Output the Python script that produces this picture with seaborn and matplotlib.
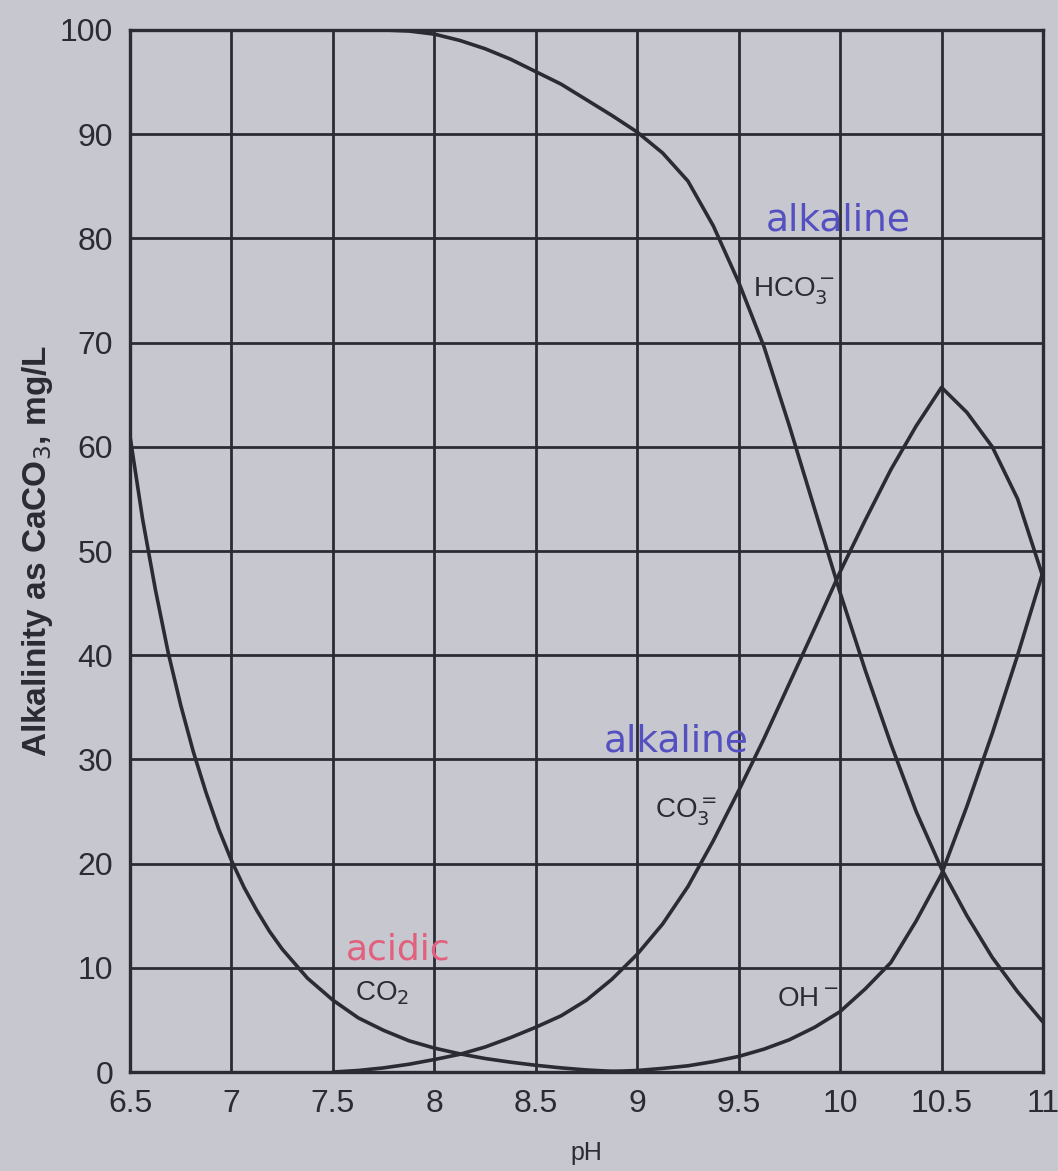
import numpy as np
import matplotlib
matplotlib.use('Agg')
import matplotlib.pyplot as plt
import seaborn as sns

nan = np.nan

# CO2 curve, read more densely where it bends sharply
ph_co2 = [6.5, 6.5625, 6.625, 6.6875, 6.75, 6.8125, 6.875, 6.9375, 7.0, 7.0625,
          7.125, 7.1875, 7.25, 7.375, 7.5, 7.625, 7.75, 7.875, 8.0, 8.125,
          8.25, 8.375, 8.5, 8.625, 8.75, 8.875, 9.0]
co2 = [61, 53.0, 46.3, 40.3, 35.2, 30.7, 26.8, 23.3, 20.3, 17.7,
       15.5, 13.5, 11.8, 9.0, 6.9, 5.2, 4.0, 3.0, 2.3, 1.75,
       1.3, 0.95, 0.65, 0.4, 0.2, 0.07, 0.0]

# other curves, read every 0.125 pH
ph = [7.5, 7.625, 7.75, 7.875, 8.0, 8.125, 8.25, 8.375, 8.5, 8.625, 8.75,
      8.875, 9.0, 9.125, 9.25, 9.375, 9.5, 9.625, 9.75, 9.875, 10.0, 10.125,
      10.25, 10.375, 10.5, 10.625, 10.75, 10.875, 11.0]
hco3 = [100, 100, 100, 99.9, 99.6, 99.0, 98.2, 97.2, 96.0, 94.8, 93.3,
        91.8, 90.2, 88.2, 85.5, 81.2, 75.8, 69.6, 62.0, 54.0, 46.0, 38.5,
        31.5, 25.0, 19.5, 15.0, 11.0, 7.7, 4.8]
co3 = [0.0, 0.15, 0.4, 0.75, 1.2, 1.7, 2.4, 3.3, 4.3, 5.4, 6.9,
       8.9, 11.3, 14.2, 17.8, 22.2, 27.0, 32.0, 37.3, 42.6, 48.0, 53.0,
       57.8, 62.0, 65.7, 63.3, 60.0, 55.0, 47.5]
oh = [nan, nan, nan, nan, nan, nan, nan, nan, nan, nan, 0.0,
      0.05, 0.15, 0.35, 0.6, 1.0, 1.5, 2.2, 3.1, 4.3, 5.8, 8.0,
      10.5, 14.5, 19.0, 25.5, 32.5, 40.0, 48.0]

xticks = [6.5, 7, 7.5, 8, 8.5, 9, 9.5, 10, 10.5, 11]
xticklabels = ['6.5', '7', '7.5', '8', '8.5', '9', '9.5', '10', '10.5', '11']
yticks = [0, 10, 20, 30, 40, 50, 60, 70, 80, 90, 100]

bg = '#c7c7d0'
ink = '#2b2b33'

sns.set_style('white')
plt.rcParams['font.family'] = ['Liberation Sans', 'DejaVu Sans']

fig = plt.figure(figsize=(10.58, 11.71), dpi=100, facecolor=bg)
ax = fig.add_axes([0.1229, 0.0845, 0.8629, 0.8899])
ax.set_facecolor(bg)

sns.lineplot(x=ph_co2, y=co2, color=ink, linewidth=2.6, estimator=None,
             sort=False, ax=ax)
for vals in [hco3, co3, oh]:
    sns.lineplot(x=ph, y=vals, color=ink, linewidth=2.6, estimator=None,
                 sort=False, ax=ax)

ax.set_xlim(6.5, 11)
ax.set_ylim(0, 100)
ax.set_xticks(xticks)
ax.set_xticklabels(xticklabels)
ax.set_yticks(yticks)
ax.grid(True, color=ink, linewidth=2.0)
ax.set_axisbelow(True)
for s in ax.spines.values():
    s.set_color(ink)
    s.set_linewidth(2.4)
ax.tick_params(axis='both', length=0, labelsize=23, colors=ink)
ax.tick_params(axis='x', pad=12)
ax.tick_params(axis='y', pad=12)

ax.set_xlabel('pH', fontsize=18, color=ink, labelpad=16)
ax.set_ylabel(r'Alkalinity as CaCO$_3$, mg/L', fontsize=24, color=ink,
              fontweight='bold', labelpad=4)

# curve labels
lab = dict(fontsize=20, color=ink, va='center', ha='left')
ax.text(9.57, 75, r'HCO$_3^-$', **lab)
ax.text(9.09, 25, r'CO$_3^=$', **lab)
ax.text(7.61, 7.6, r'CO$_2$', **lab)
ax.text(9.69, 7.0, r'OH$^-$', **lab)

# annotations
blue = '#5550c0'
ax.text(9.99, 80.8, 'alkaline', fontsize=27, color=blue, ha='center',
        va='baseline', family='DejaVu Sans')
ax.text(9.19, 30.8, 'alkaline', fontsize=27, color=blue, ha='center',
        va='baseline', family='DejaVu Sans')
ax.text(7.82, 10.8, 'acidic', fontsize=26, color='#e0607e', ha='center',
        va='baseline', family='DejaVu Sans')

fig.savefig('out.png', dpi=100, facecolor=bg)
